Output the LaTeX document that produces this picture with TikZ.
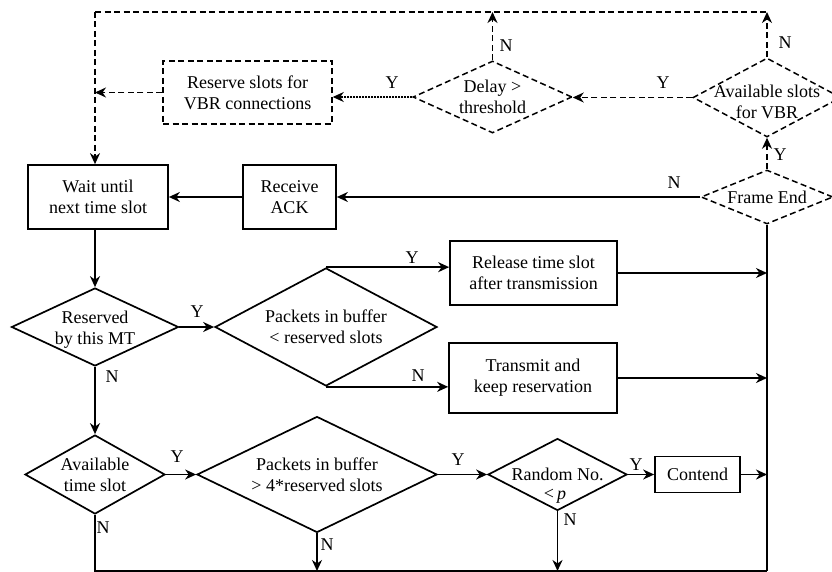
\documentclass[tikz,border=0pt]{standalone}
\usepackage{fontspec}
\setmainfont{Liberation Serif}
\usetikzlibrary{shapes.geometric,arrows.meta}
\begin{document}
\begin{tikzpicture}[x=1pt,y=-1pt, font=\fontsize{18}{21}\selectfont,
 box/.style={draw, line width=1.7pt, rectangle, align=center, inner sep=0pt},
 dbox/.style={box, dash pattern=on 6pt off 3.5pt, line width=1.5pt},
 dia/.style={draw, diamond, inner sep=0pt, line width=1.7pt},
 ddia/.style={dia, dash pattern=on 6pt off 3.5pt, line width=1.5pt},
 txt/.style={align=center, inner sep=0pt},
 sl/.style={line width=1.7pt},
 dl/.style={line width=1.5pt, dash pattern=on 6pt off 3.5pt},
 fl/.style={line width=1.1pt, dash pattern=on 2pt off 1pt},
 ar/.style={-{Stealth[length=11pt,width=10pt,inset=3.5pt]}},
 lab/.style={inner sep=0pt}]
\useasboundingbox (0,0) rectangle (832,572);

% nodes
\node[box, minimum width=140pt, minimum height=64pt] (wait) at (98,197) {Wait until\\next time slot};
\node[box, minimum width=93pt, minimum height=64pt] (ack) at (289.5,197) {Receive\\ACK};
\node[dbox, minimum width=169pt, minimum height=63pt] (reserve) at (247.5,92.5) {Reserve slots for\\VBR connections};
\node[ddia, minimum width=159pt, minimum height=72pt, label={[txt]center:Delay >\\threshold}] (delay) at (492.5,97) {};
\node[ddia, minimum width=148pt, minimum height=79pt, label={[txt, yshift=-4pt]center:Available slots\\for VBR}] (avail) at (767,97.5) {};
\node[ddia, minimum width=132pt, minimum height=54pt, label={[txt]center:Frame End}] (frame) at (767,197) {};
\node[dia, minimum width=167pt, minimum height=78pt, label={[txt, yshift=-3pt]center:Reserved\\by this MT}] (reserved) at (95,327) {};
\node[dia, minimum width=222pt, minimum height=118pt, label={[txt]center:Packets in buffer\\< reserved slots}] (pless) at (326,327) {};
\node[box, minimum width=167pt, minimum height=64pt] (release) at (533.5,273) {Release time slot\\after transmission};
\node[box, minimum width=168pt, minimum height=70pt] (transmit) at (533,378) {Transmit and\\keep reservation};
\node[dia, minimum width=140pt, minimum height=79pt, label={[txt]center:Available\\time slot}] (availts) at (95,474.5) {};
\node[dia, minimum width=240pt, minimum height=116pt, label={[txt]center:Packets in buffer\\> 4*reserved slots}] (pgreat) at (317,474.5) {};
\node[dia, minimum width=139pt, minimum height=72pt, label={[txt]center:Random No.}] (random) at (557.5,474.5) {};
\node[txt] (rp) at (555,496) {<\,\itshape p};
\node[box, minimum width=85pt, minimum height=36pt] (contend) at (697.5,474.5) {Contend};

% free ends
\coordinate (tl) at (95,12);
\coordinate (tr) at (767,12);
\coordinate (bl) at (95,571);
\coordinate (br) at (767,571);

% dashed loop
\draw[dl] (tl) -- (tr);
\draw[dl, ar] (tl) -- (tl |- wait.north);
\draw[dl, ar] (reserve.west) -- (reserve.west -| tl);
\draw[fl, ar] (delay.west) -- (delay.west -| reserve.east);
\draw[dl, ar] (avail.west) -- (avail.west -| delay.east);
\draw[dl, ar] (delay.north) -- (delay.north |- tl);
\draw[dl, ar] (avail.north) -- (avail.north |- tl);
\draw[dl, ar] (frame.north) -- (avail.south);

% solid connectors
\draw[sl, ar] (frame.west) -- (frame.west -| ack.east);
\draw[sl, ar] (ack.west) -- (wait.east);
\draw[sl, ar] (reserved.north |- wait.south) -- (reserved.north);
\draw[sl] (frame.south) -- (br);
\draw[sl, ar] (reserved.east) -- (pless.west);
\draw[sl, ar] (pless.north) -- (pless.north -| release.west);
\draw[sl, ar] (pless.south) -- (pless.south -| transmit.west);
\draw[sl, ar] (release.east) -- (release.east -| br);
\draw[sl, ar] (transmit.east) -- (transmit.east -| br);
\draw[sl, ar] (reserved.south) -- (availts.north);
\draw[sl, ar] (availts.east) -- (pgreat.west);
\draw[sl, ar] (pgreat.east) -- (random.west);
\draw[sl, ar] (random.east) -- (contend.west);
\draw[sl, ar] (contend.east) -- (contend.east -| br);
\draw[sl, ar] (random.south) -- (random.south |- bl);
\draw[sl, ar] (pgreat.south) -- (pgreat.south |- bl);
\draw[sl] (availts.south) -- (bl) -- (br);

% labels
\node[lab] (l1) at (392,83) {Y};
\node[lab] (l2) at (506,46) {N};
\node[lab] (l3) at (663,83) {Y};
\node[lab] (l4) at (785,43) {N};
\node[lab] (l5) at (780,155) {Y};
\node[lab] (l6) at (674,183) {N};
\node[lab] (l7) at (197,312) {Y};
\node[lab] (l8) at (412,258) {Y};
\node[lab] (l9) at (418,376) {N};
\node[lab] (l10) at (112,377) {N};
\node[lab] (l11) at (177,457) {Y};
\node[lab] (l12) at (458,460) {Y};
\node[lab] (l13) at (636,465) {Y};
\node[lab] (l14) at (103,528) {N};
\node[lab] (l15) at (327,545) {N};
\node[lab] (l16) at (570,520) {N};
\end{tikzpicture}
\end{document}
